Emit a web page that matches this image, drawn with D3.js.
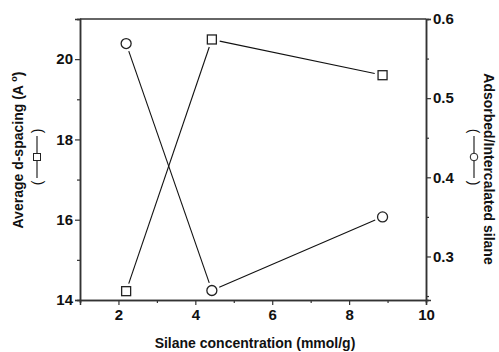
<!DOCTYPE html>
<html>
<head>
<meta charset="utf-8">
<script src="https://cdn.jsdelivr.net/npm/d3@7"></script>
<style>
  body { margin: 0; background: #fff; }
  text { font-family: "Liberation Sans", Arial, sans-serif; font-weight: bold; fill: #111; }
</style>
</head>
<body>
<div id="chart"></div>
<script>
// data
const silaneConc = [2.2, 4.43, 8.87];
const dSpacing = [14.22, 20.49, 19.6];
const adsRatio = [0.569, 0.257, 0.35];

const xTicks = [2, 4, 6, 8, 10];
const xMinor = [1, 3, 5, 7, 9];
const yLeftTicks = [14, 16, 18, 20];
const yLeftMinor = [15, 17, 19, 21];
const yRightTicks = [0.3, 0.4, 0.5, 0.6];
const yRightMinor = [0.25, 0.35, 0.45, 0.55];

const W = 499, H = 352;
const margin = { top: 19, right: 73, bottom: 52, left: 80 };
const width = W - margin.left - margin.right,
      height = H - margin.top - margin.bottom;

const svg = d3.select("#chart").append("svg")
    .attr("width", W)
    .attr("height", H);

const g = svg.append("g")
    .attr("transform", `translate(${margin.left},${margin.top})`);

// Scales
const x = d3.scaleLinear().domain([1, 10]).range([0, width]);
const yLeft = d3.scaleLinear().domain([14, 21]).range([height, 0]);
const yRight = d3.scaleLinear().domain([0.245, 0.6]).range([height, 0]);

function styleAxis(sel) {
    sel.select(".domain").attr("stroke", "#333").attr("stroke-width", 1.5);
    sel.selectAll(".tick line").attr("stroke", "#333").attr("stroke-width", 1.2);
    sel.selectAll(".tick text")
        .style("font-size", "15px")
        .style("font-weight", "bold")
        .attr("fill", "#111");
}

// minor ticks first
g.append("g")
    .attr("transform", `translate(0,${height})`)
    .call(d3.axisBottom(x).tickValues(xMinor).tickSize(3).tickFormat(""))
    .call(styleAxis);
g.append("g")
    .call(d3.axisLeft(yLeft).tickValues(yLeftMinor).tickSize(3).tickFormat(""))
    .call(styleAxis);
g.append("g")
    .attr("transform", `translate(${width},0)`)
    .call(d3.axisRight(yRight).tickValues(yRightMinor.filter(v => v >= 0.245)).tickSize(3).tickFormat(""))
    .call(styleAxis);

// major ticks
g.append("g")
    .attr("transform", `translate(0,${height})`)
    .call(d3.axisBottom(x).tickValues(xTicks).tickSize(5).tickPadding(4).tickFormat(d3.format("d")))
    .call(styleAxis);
g.append("g")
    .call(d3.axisLeft(yLeft).tickValues(yLeftTicks).tickSize(5).tickPadding(2).tickFormat(d3.format("d")))
    .call(styleAxis);
g.append("g")
    .attr("transform", `translate(${width},0)`)
    .call(d3.axisRight(yRight).tickValues(yRightTicks).tickSize(5).tickPadding(2).tickFormat(d3.format(".1f")))
    .call(styleAxis);

// top frame line
g.append("line")
    .attr("x1", 0).attr("x2", width)
    .attr("y1", 0).attr("y2", 0)
    .attr("stroke", "#333").attr("stroke-width", 1.5);

// lines with gaps next to the markers
function gappedSegments(pts, gap) {
    const segs = [];
    for (let i = 0; i < pts.length - 1; i++) {
        const [x0, y0] = pts[i], [x1, y1] = pts[i + 1];
        const len = Math.hypot(x1 - x0, y1 - y0);
        const ux = (x1 - x0) / len, uy = (y1 - y0) / len;
        segs.push([x0 + ux * gap, y0 + uy * gap, x1 - ux * gap, y1 - uy * gap]);
    }
    return segs;
}

const sqPts = silaneConc.map((c, i) => [x(c), yLeft(dSpacing[i])]);
const ciPts = silaneConc.map((c, i) => [x(c), yRight(adsRatio[i])]);

[sqPts, ciPts].forEach(pts => {
    g.selectAll(null)
        .data(gappedSegments(pts, 8))
        .enter()
        .append("line")
        .attr("x1", d => d[0]).attr("y1", d => d[1])
        .attr("x2", d => d[2]).attr("y2", d => d[3])
        .attr("stroke", "#111")
        .attr("stroke-width", 1.1);
});

// square markers (d-spacing)
const sq = 9;
g.selectAll(".sq")
    .data(sqPts)
    .enter()
    .append("rect")
    .attr("x", d => d[0] - sq / 2)
    .attr("y", d => d[1] - sq / 2)
    .attr("width", sq)
    .attr("height", sq)
    .attr("fill", "#fff")
    .attr("stroke", "#222")
    .attr("stroke-width", 1.3);

// circle markers (ratio)
g.selectAll(".ci")
    .data(ciPts)
    .enter()
    .append("circle")
    .attr("cx", d => d[0])
    .attr("cy", d => d[1])
    .attr("r", 5)
    .attr("fill", "#fff")
    .attr("stroke", "#222")
    .attr("stroke-width", 1.3);

// Axis titles
svg.append("text")
    .attr("x", margin.left + width / 2 + 2)
    .attr("y", 348)
    .attr("text-anchor", "middle")
    .style("font-size", "14px")
    .text("Silane concentration (mmol/g)");

const leftTitle = svg.append("text")
    .attr("transform", `translate(23,150) rotate(-90)`)
    .attr("text-anchor", "middle")
    .style("font-size", "14px");
leftTitle.append("tspan").text("Average d-spacing (A ");
leftTitle.append("tspan").attr("dy", -6).style("font-size", "9px").text("o");
leftTitle.append("tspan").attr("dy", 6).text(")");

// little legend lines under the titles
function legendKey(cx, cy, rot, shape) {
    const k = svg.append("g").attr("transform", `translate(${cx},${cy}) rotate(${rot})`);
    k.append("text").attr("x", -26).attr("y", 5).attr("text-anchor", "middle")
        .style("font-size", "14px").style("font-weight", "normal").text("(");
    k.append("text").attr("x", 26).attr("y", 5).attr("text-anchor", "middle")
        .style("font-size", "14px").style("font-weight", "normal").text(")");
    k.append("line").attr("x1", -21).attr("x2", 21).attr("y1", 0).attr("y2", 0)
        .attr("stroke", "#111").attr("stroke-width", 1.1);
    if (shape === "square") {
        k.append("rect").attr("x", -3.5).attr("y", -3.5).attr("width", 7).attr("height", 7)
            .attr("fill", "#fff").attr("stroke", "#222").attr("stroke-width", 1);
    } else {
        k.append("circle").attr("r", 3.8)
            .attr("fill", "#fff").attr("stroke", "#222").attr("stroke-width", 1);
    }
}
legendKey(37, 157, -90, "square");

svg.append("text")
    .attr("transform", `translate(484,169) rotate(90)`)
    .attr("text-anchor", "middle")
    .style("font-size", "14px")
    .text("Adsorbed/Intercalated silane");
legendKey(474, 157, 90, "circle");
</script>
</body>
</html>
